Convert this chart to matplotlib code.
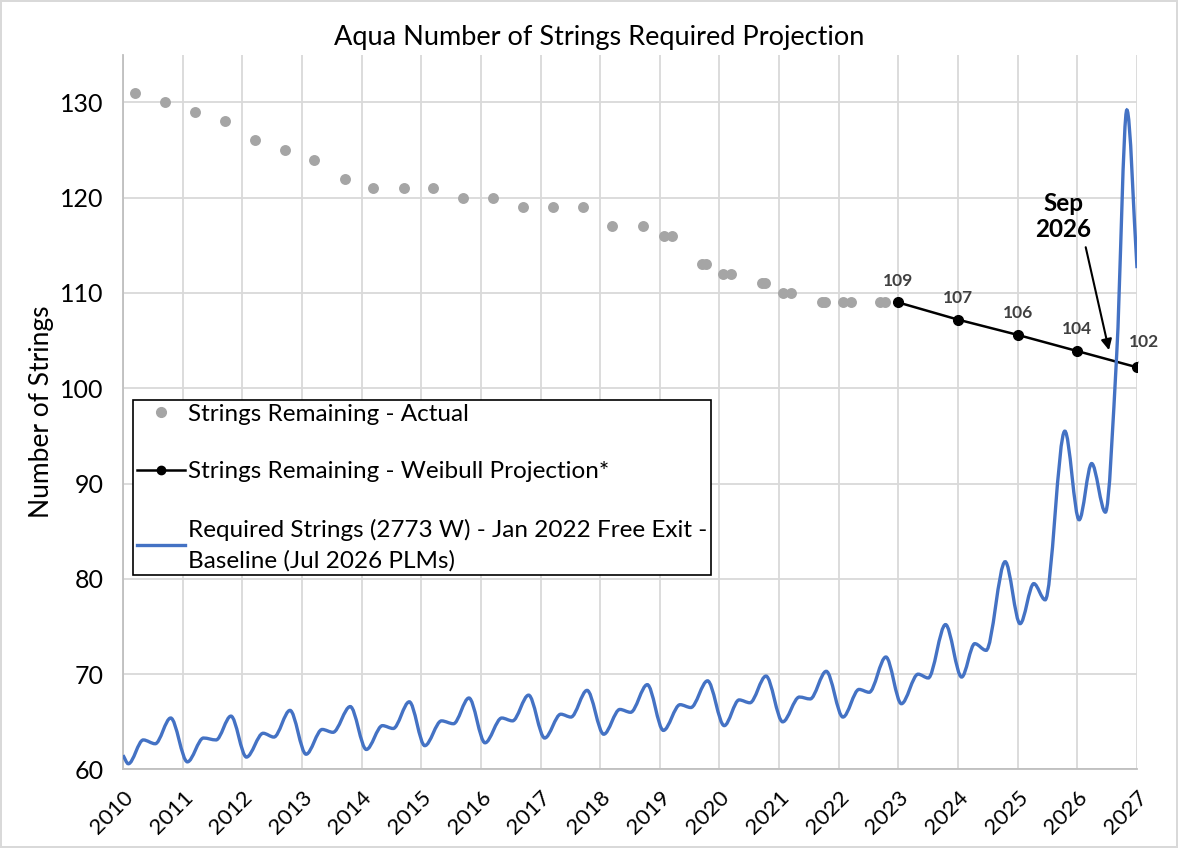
import numpy as np
import matplotlib
matplotlib.use("Agg")
import matplotlib.pyplot as plt
from matplotlib.path import Path
from matplotlib.patches import PathPatch
from matplotlib.lines import Line2D

plt.rcParams['font.family'] = ['Lato', 'DejaVu Sans']

# actual strings remaining (fractional year, count)
actual_x = [2010.20, 2010.70, 2011.21, 2011.71, 2012.21, 2012.72, 2013.20, 2013.72,
            2014.19, 2014.71, 2015.20, 2015.70, 2016.20, 2016.71, 2017.21, 2017.71,
            2018.20, 2018.72, 2019.07, 2019.20, 2019.71, 2019.77, 2020.06, 2020.19,
            2020.71, 2020.76, 2021.06, 2021.20, 2021.72, 2021.77, 2022.07, 2022.20,
            2022.69, 2022.77]
actual_y = [131, 130, 129, 128, 126, 125, 124, 122,
            121, 121, 121, 120, 120, 119, 119, 119,
            117, 117, 116, 116, 113, 113, 112, 112,
            111, 111, 110, 110, 109, 109, 109, 109,
            109, 109]

# weibull projection
proj_x = [2023, 2024, 2025, 2026, 2027]
proj_y = [109.0, 107.2, 105.6, 103.9, 102.2]

# required strings (turning points)
req_x = [2010.00, 2010.09, 2010.34, 2010.54, 2010.80,
         2011.08, 2011.35, 2011.56, 2011.81,
         2012.07, 2012.35, 2012.53, 2012.80,
         2013.07, 2013.34, 2013.52, 2013.81,
         2014.08, 2014.35, 2014.53, 2014.80,
         2015.06, 2015.34, 2015.54, 2015.80,
         2016.07, 2016.35, 2016.53, 2016.80,
         2017.07, 2017.34, 2017.51, 2017.78,
         2018.06, 2018.33, 2018.51, 2018.79,
         2019.06, 2019.34, 2019.52, 2019.80,
         2020.08, 2020.33, 2020.51, 2020.78,
         2021.06, 2021.34, 2021.52, 2021.79,
         2022.07, 2022.34, 2022.51, 2022.79,
         2023.05, 2023.33, 2023.50, 2023.79,
         2024.06, 2024.28, 2024.47, 2024.79,
         2025.04, 2025.27, 2025.46, 2025.79,
         2026.03, 2026.24, 2026.47, 2026.66, 2026.83, 2027.00]
req_y = [61.5, 60.6, 63.1, 62.7, 65.4,
         60.8, 63.3, 63.1, 65.6,
         61.3, 63.8, 63.4, 66.2,
         61.6, 64.2, 63.9, 66.6,
         62.1, 64.6, 64.3, 67.1,
         62.5, 65.1, 64.8, 67.5,
         62.8, 65.4, 65.1, 67.8,
         63.3, 65.8, 65.5, 68.3,
         63.7, 66.3, 66.0, 68.9,
         64.1, 66.8, 66.5, 69.3,
         64.6, 67.3, 67.0, 69.8,
         65.0, 67.6, 67.4, 70.3,
         65.5, 68.4, 68.1, 71.8,
         66.9, 70.0, 69.6, 75.2,
         69.7, 73.2, 72.5, 81.8,
         75.3, 79.5, 77.8, 95.5,
         86.2, 92.1, 87.0, 103.6, 129.2, 112.6]

years = list(range(2010, 2028))

GRAY = '#a5a5a5'
BLUE = '#4472c4'
GRID = '#d9d9d9'
TXT = '#404040'


# smooth curve like excel's "smoothed line", built as bezier segments
def smooth_path(x, y):
    x = np.asarray(x, float)
    y = np.asarray(y, float)
    h = np.diff(x)
    d = np.diff(y) / h
    m = np.zeros_like(y)
    for i in range(1, len(x) - 1):
        if d[i - 1] * d[i] > 0:
            w1 = 2 * h[i] + h[i - 1]
            w2 = h[i] + 2 * h[i - 1]
            m[i] = (w1 + w2) / (w1 / d[i - 1] + w2 / d[i])
    m[0] = d[0]
    m[-1] = d[-1]
    verts = [(x[0], y[0])]
    codes = [Path.MOVETO]
    for i in range(len(h)):
        verts += [(x[i] + h[i] / 3, y[i] + m[i] * h[i] / 3),
                  (x[i + 1] - h[i] / 3, y[i + 1] - m[i + 1] * h[i] / 3),
                  (x[i + 1], y[i + 1])]
        codes += [Path.CURVE4] * 3
    return Path(verts, codes)


fig = plt.figure(figsize=(11.78, 8.48), dpi=100)
fig.patch.set_edgecolor(GRID)
fig.patch.set_linewidth(1.5)
ax = fig.add_axes([0.1044, 0.0926, 0.8608, 0.8429])

ax.set_xlim(2010, 2027)
ax.set_ylim(60, 135)
ax.set_xticks(years)
ax.set_xticklabels([str(y) for y in years], rotation=45, ha='right',
                   rotation_mode='anchor', fontsize=16, color='black')
ax.set_yticks(range(60, 131, 10))
ax.tick_params(axis='y', labelsize=18, length=0, pad=14)
ax.tick_params(axis='x', length=0, pad=13)
ax.grid(True, color=GRID, linewidth=1.3)
ax.set_axisbelow(True)
for s in ['top', 'right']:
    ax.spines[s].set_visible(False)
for s in ['left', 'bottom']:
    ax.spines[s].set_color('#bfbfbf')
    ax.spines[s].set_linewidth(1.3)

ax.scatter(actual_x, actual_y, s=62, color=GRAY, zorder=3, linewidths=0)
ax.plot(proj_x, proj_y, color='black', lw=1.8, marker='o', ms=7, zorder=4)
ax.add_patch(PathPatch(smooth_path(req_x, req_y), facecolor='none',
                       edgecolor=BLUE, lw=2.4, zorder=5))

# value labels on projection
for i, (x, y) in enumerate(zip(proj_x, proj_y)):
    if i == len(proj_x) - 1:
        ax.annotate(f'{y:.0f}', xy=(x, y), xytext=(x + 0.12, y + 2.7),
                    ha='center', va='center', fontsize=12.5, fontweight='bold',
                    color=TXT, arrowprops=dict(arrowstyle='-', color=GRAY, lw=0.8,
                                               shrinkA=7, shrinkB=3))
    else:
        ax.text(x, y + 2.3, f'{y:.0f}', ha='center', va='center', fontsize=12.5,
                fontweight='bold', color=TXT)

ax.text(2025.76, 118.0, 'Sep\n2026', ha='center', va='center', fontsize=17.5,
        fontweight='bold', linespacing=1.15)
ax.annotate('', xy=(2026.53, 104.0), xytext=(2026.14, 114.8),
            arrowprops=dict(arrowstyle='-|>', color='black', lw=1.5,
                            mutation_scale=16, shrinkA=0, shrinkB=0))

ax.set_ylabel('Number of Strings', fontsize=19, labelpad=4)
fig.text(0.509, 1 - 38 / 848, 'Aqua Number of Strings Required Projection',
         ha='center', va='center', fontsize=19.5)

handles = [
    Line2D([], [], ls='none', marker='o', ms=7, color=GRAY),
    Line2D([], [], color='black', lw=1.8, marker='o', ms=6),
    Line2D([], [], color=BLUE, lw=2.4),
]
labels = [
    'Strings Remaining - Actual',
    'Strings Remaining - Weibull Projection*',
    'Required Strings (2773 W) - Jan 2022 Free Exit -\nBaseline (Jul 2026 PLMs)',
]
leg = ax.legend(handles, labels, loc='upper left',
                bbox_to_anchor=(133 / 1178, 1 - 400 / 848),
                bbox_transform=fig.transFigure, borderaxespad=0,
                fontsize=17.5, frameon=True, fancybox=False, framealpha=1,
                edgecolor='black', handlelength=2.0, handletextpad=0.1,
                labelspacing=1.5, borderpad=0.15)
leg.get_frame().set_linewidth(1.2)
leg.get_texts()[2].set_linespacing(1.55)

fig.savefig('out.png', dpi=100)
